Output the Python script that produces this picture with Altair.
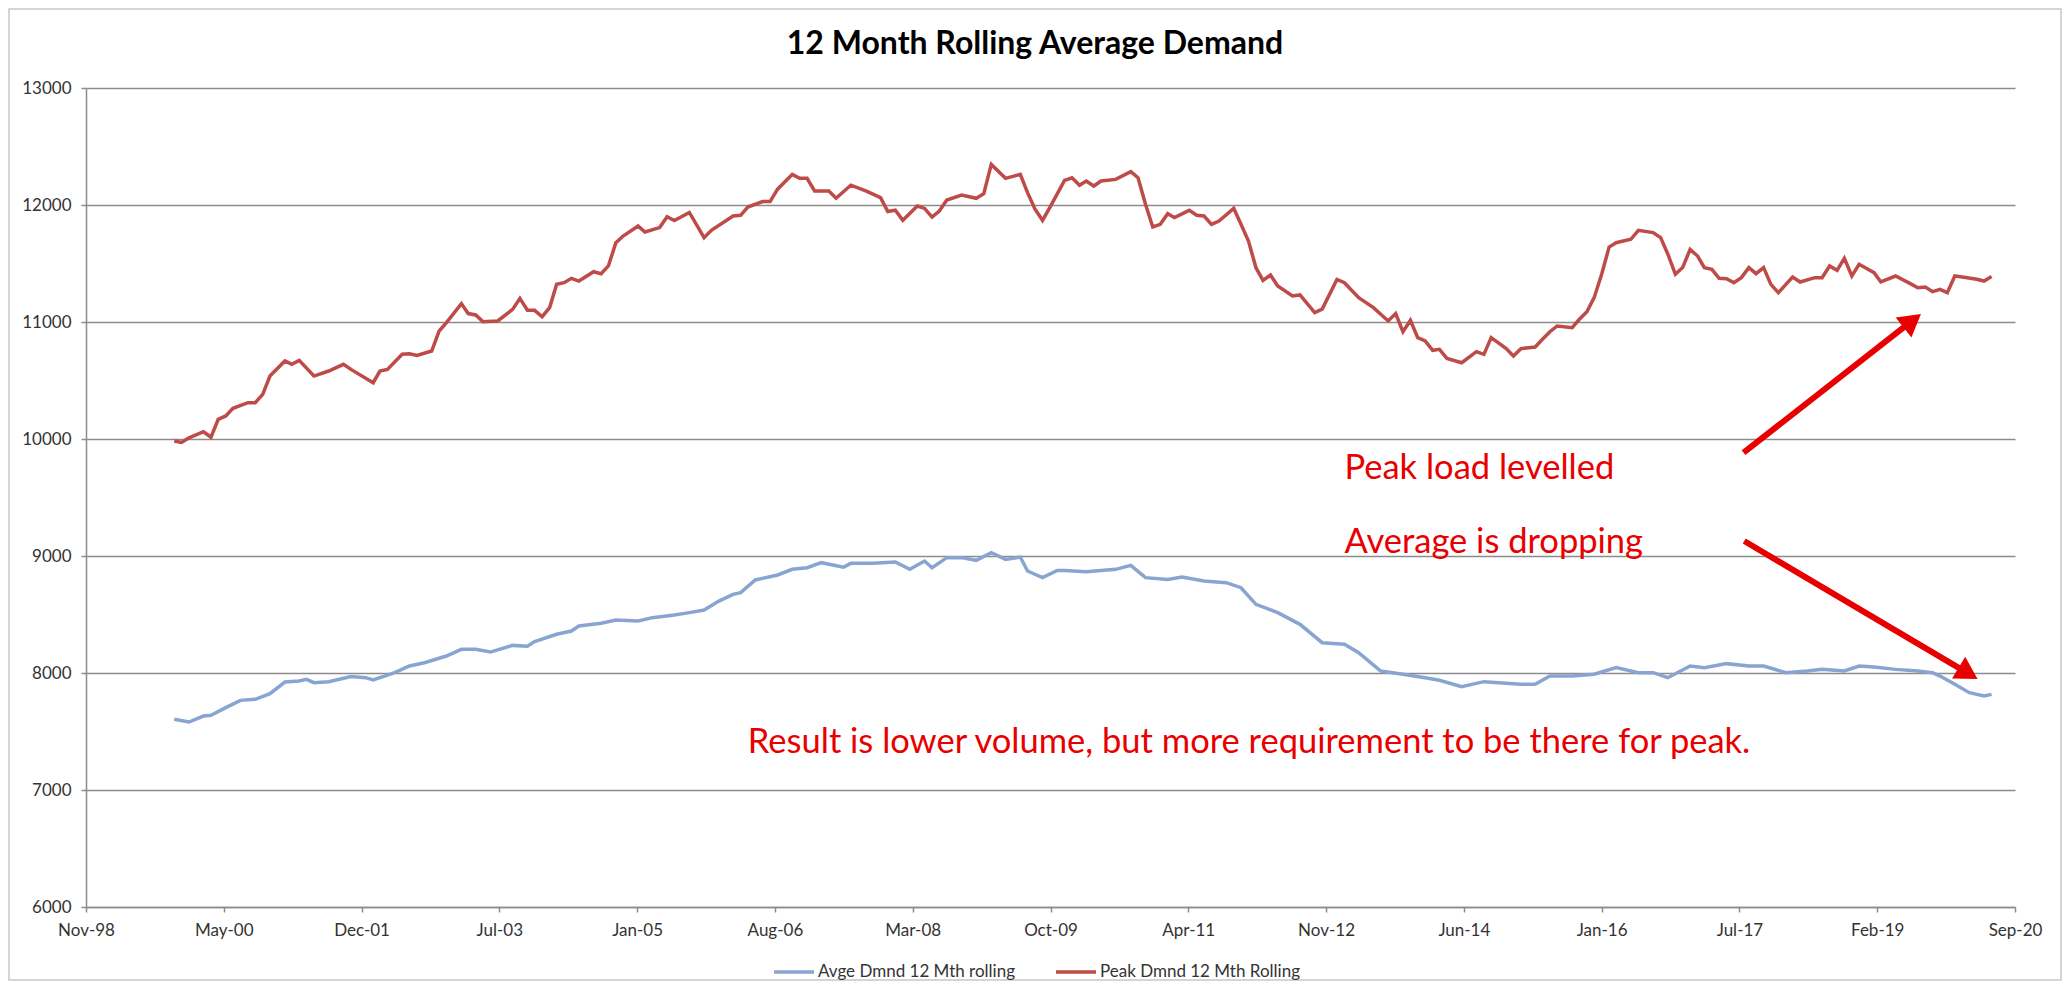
import altair as alt
import pandas as pd

# ---------------- data ----------------
START_MONTH = "1999-11-01"   # month index 0

PEAK_MONTHS = [0, 1, 2, 4, 5, 6, 7, 8, 10, 11, 12, 13, 15, 16, 17, 19, 21, 23, 24, 27, 28, 29, 31, 32, 33, 35,
               36, 37, 39, 40, 41, 42, 44, 46, 47, 48, 49, 50, 51, 52, 53, 54, 55, 57, 58, 59, 60, 61, 63, 64,
               66, 67, 68, 70, 72, 73, 76, 77, 78, 80, 81, 82, 84, 85, 86, 87, 89, 90, 92, 94, 96, 97, 98, 99,
               101, 102, 103, 104, 105, 107, 109, 110, 111, 113, 115, 116, 117, 118, 119, 121, 122, 123, 124,
               125, 126, 128, 130, 131, 132, 133, 134, 135, 136, 138, 139, 140, 141, 142, 144, 145, 146, 147,
               148, 149, 150, 152, 153, 155, 156, 158, 159, 161, 163, 165, 166, 167, 168, 169, 170, 171, 172,
               173, 175, 177, 178, 179, 181, 182, 183, 185, 186, 187, 188, 190, 191, 192, 193, 194, 195, 196,
               198, 199, 201, 202, 203, 204, 205, 206, 207, 208, 209, 210, 211, 212, 213, 214, 215, 216, 217,
               218, 220, 221, 223, 224, 225, 226, 227, 228, 229, 231, 232, 234, 236, 237, 238, 239, 240, 241,
               242, 243, 245, 246, 247]
PEAK_VALUES = [9983, 9970, 10010, 10062, 10015, 10168, 10197, 10262, 10310, 10310, 10382, 10538, 10667, 10638,
               10672, 10538, 10581, 10638, 10595, 10481, 10581, 10595, 10724, 10729, 10715, 10752, 10923, 10994,
               11157, 11072, 11060, 11003, 11009, 11108, 11202, 11100, 11100, 11045, 11123, 11322, 11336, 11373,
               11350, 11430, 11413, 11479, 11678, 11735, 11821, 11769, 11807, 11900, 11868, 11936, 11721, 11784,
               11906, 11912, 11983, 12029, 12029, 12135, 12262, 12228, 12228, 12120, 12120, 12058, 12169, 12120,
               12063, 11944, 11955, 11869, 11991, 11971, 11897, 11949, 12043, 12085, 12057, 12097, 12347, 12228,
               12262, 12106, 11964, 11869, 11977, 12211, 12233, 12169, 12205, 12162, 12205, 12219, 12285, 12233,
               12006, 11812, 11835, 11926, 11892, 11954, 11912, 11906, 11835, 11863, 11971, 11835, 11692, 11464,
               11356, 11402, 11308, 11222, 11231, 11081, 11110, 11364, 11336, 11208, 11123, 11009, 11072, 10917,
               11015, 10866, 10838, 10758, 10766, 10689, 10652, 10746, 10723, 10866, 10775, 10709, 10772, 10786,
               10852, 10917, 10966, 10951, 11023, 11088, 11208, 11408, 11641, 11678, 11707, 11784, 11764, 11721,
               11579, 11408, 11465, 11621, 11564, 11465, 11450, 11373, 11370, 11336, 11379, 11465, 11413, 11465,
               11322, 11251, 11385, 11342, 11379, 11379, 11479, 11442, 11545, 11393, 11493, 11422, 11342, 11393,
               11328, 11293, 11299, 11259, 11279, 11251, 11393, 11385, 11365, 11350, 11388]

AVG_MONTHS = [0, 2, 4, 5, 7, 9, 11, 13, 15, 17, 18, 19, 21, 24, 26, 27, 30, 32, 34, 37, 39, 41, 43, 46, 48, 49,
              52, 54, 55, 58, 60, 63, 65, 68, 70, 72, 74, 76, 77, 79, 82, 84, 86, 88, 91, 92, 95, 98, 100, 102,
              103, 105, 107, 109, 111, 113, 115, 116, 118, 120, 121, 124, 128, 130, 132, 135, 137, 140, 143, 145,
              147, 150, 153, 156, 159, 161, 164, 167, 170, 172, 175, 178, 180, 183, 185, 187, 190, 193, 196, 199,
              201, 203, 206, 208, 211, 214, 216, 219, 222, 224, 227, 229, 231, 234, 237, 239, 240, 242, 244, 246,
              247]
AVG_VALUES = [7604, 7581, 7632, 7638, 7704, 7766, 7775, 7823, 7923, 7932, 7946, 7917, 7926, 7969, 7960, 7940,
              8003, 8060, 8088, 8145, 8202, 8202, 8179, 8236, 8228, 8268, 8331, 8359, 8402, 8425, 8453, 8444,
              8473, 8496, 8516, 8538, 8615, 8672, 8687, 8795, 8838, 8886, 8900, 8943, 8905, 8937, 8937, 8949,
              8886, 8957, 8900, 8986, 8986, 8963, 9028, 8971, 8991, 8872, 8815, 8877, 8877, 8866, 8886, 8920,
              8815, 8800, 8820, 8786, 8772, 8729, 8587, 8516, 8416, 8259, 8245, 8174, 8017, 7989, 7960, 7938,
              7883, 7926, 7917, 7903, 7903, 7974, 7974, 7989, 8046, 8003, 8003, 7960, 8060, 8046, 8080, 8060,
              8060, 8003, 8017, 8031, 8017, 8060, 8051, 8031, 8017, 8003, 7974, 7903, 7832, 7803, 7817]

SERIES = ["Avge Dmnd 12 Mth rolling", "Peak Dmnd 12 Mth Rolling"]
COLORS = ["#88A5D1", "#BE4B48"]

# x axis: Excel date axis, Nov-98 .. Sep-20, one tick every 570 days
X_FIRST_TICK = "1998-11-01"
X_TICK_STEP_DAYS = 570
X_TICK_COUNT = 15
Y_TICKS = [6000, 7000, 8000, 9000, 10000, 11000, 12000, 13000]

TITLE = "12 Month Rolling Average Demand"
NOTE_TEXTS = ["Peak load levelled", "Average is dropping",
              "Result is lower volume, but more requirement to be there for peak."]
NOTE_DATES = ["2013-02-01", "2013-02-01", "2006-05-01"]
NOTE_VALUES = [9658, 9028, 7318]

# arrows: tail and head (date, value)
ARROW_TAIL_DATES = ["2017-08-10", "2017-08-13"]
ARROW_TAIL_VALUES = [9883, 9128]
ARROW_HEAD_DATES = ["2019-07-09", "2020-02-25"]
ARROW_HEAD_VALUES = [11011, 7997]
ARROW_ANGLES = [52, 121]

# ---------------- tables ----------------
def month_to_date(m):
    return (pd.Timestamp(START_MONTH) + pd.DateOffset(months=m)).strftime("%Y-%m-%d")

rows = []
for m, v in zip(AVG_MONTHS, AVG_VALUES):
    rows.append({"date": month_to_date(m), "value": v, "series": SERIES[0]})
for m, v in zip(PEAK_MONTHS, PEAK_VALUES):
    rows.append({"date": month_to_date(m), "value": v, "series": SERIES[1]})
lines_df = pd.DataFrame(rows)

tick_ts = [pd.Timestamp(X_FIRST_TICK) + pd.Timedelta(days=X_TICK_STEP_DAYS * k) for k in range(X_TICK_COUNT)]
tick_ms = [int(t.timestamp() * 1000) for t in tick_ts]

notes_df = pd.DataFrame({"date": NOTE_DATES, "value": NOTE_VALUES, "text": NOTE_TEXTS})
arrows_df = pd.DataFrame({"date": ARROW_TAIL_DATES, "value": ARROW_TAIL_VALUES,
                          "date2": ARROW_HEAD_DATES, "value2": ARROW_HEAD_VALUES})
heads_df = pd.DataFrame({"date": ARROW_HEAD_DATES, "value": ARROW_HEAD_VALUES, "angle": ARROW_ANGLES})

FONT = "Lato"
GRID = "#8C8C8C"
RED = "#E80000"
PLOT_W, PLOT_H = 1929, 819

x_scale = alt.Scale(type="utc", domain=[tick_ms[0], tick_ms[-1]])
y_scale = alt.Scale(domain=[6000, 13000], nice=False, zero=False)

x_enc = alt.X("date:T", scale=x_scale, axis=alt.Axis(
    values=tick_ms, labelExpr="utcFormat(datum.value, '%b-%y')", title=None, grid=False,
    labelOverlap=False, labelFlush=False, tickSize=5, tickColor=GRID, tickWidth=1.5,
    domainColor=GRID, domainWidth=1.5, labelFont=FONT, labelFontSize=17, labelColor="#333333",
    labelPadding=10))
y_enc = alt.Y("value:Q", scale=y_scale, axis=alt.Axis(
    values=Y_TICKS, format="d", title=None, grid=True, gridColor=GRID, gridWidth=1.5,
    tickSize=5, tickColor=GRID, tickWidth=1.5, domainColor=GRID, domainWidth=1.5,
    labelFont=FONT, labelFontSize=17, labelColor="#333333", labelPadding=10,
    minExtent=77, maxExtent=77))

lines = alt.Chart(lines_df).mark_line(strokeWidth=3.5).encode(
    x=x_enc, y=y_enc,
    color=alt.Color("series:N", scale=alt.Scale(domain=SERIES, range=COLORS),
                    legend=alt.Legend(title=None, orient="none", legendX=686, legendY=862,
                                      direction="horizontal", symbolType="stroke", symbolSize=1600,
                                      symbolStrokeWidth=3.5, labelFont=FONT, labelFontSize=17,
                                      labelColor="#333333", columnPadding=34, labelOffset=2,
                                      labelLimit=500, padding=0)),
    detail="series:N",
)

notes = alt.Chart(notes_df).mark_text(align="left", baseline="alphabetic", font=FONT, fontSize=34.5,
                                      color=RED).encode(x="date:T", y="value:Q", text="text:N")

shafts = alt.Chart(arrows_df).mark_rule(color=RED, strokeWidth=6, strokeCap="butt").encode(
    x="date:T", y="value:Q", x2="date2:T", y2="value2:Q")

heads = alt.Chart(heads_df).mark_point(shape="triangle-up", filled=True, color=RED, size=650,
                                       opacity=1).encode(
    x="date:T", y="value:Q", angle=alt.Angle("angle:Q", scale=None))

deco = pd.DataFrame({"k": [0]})
frame = alt.Chart(deco).mark_rect(fill=None, stroke="#C8C8C8", strokeWidth=1.5).encode(
    x=alt.value(-77), x2=alt.value(1975), y=alt.value(-79), y2=alt.value(892))

title = alt.Chart(deco).mark_text(align="center", baseline="alphabetic", font=FONT, fontSize=32,
                                  fontWeight="bold", color="#000000").encode(
    x=alt.value(949), y=alt.value(-34), text=alt.value(TITLE))

chart = alt.layer(frame, title, lines, notes, shafts, heads).properties(
    width=PLOT_W, height=PLOT_H,
    padding={"left": 0, "top": 0, "right": 0, "bottom": 0},
    background="white",
).configure_view(stroke=None)

chart.save("out.html", embed_options={"renderer": "svg", "actions": False})
